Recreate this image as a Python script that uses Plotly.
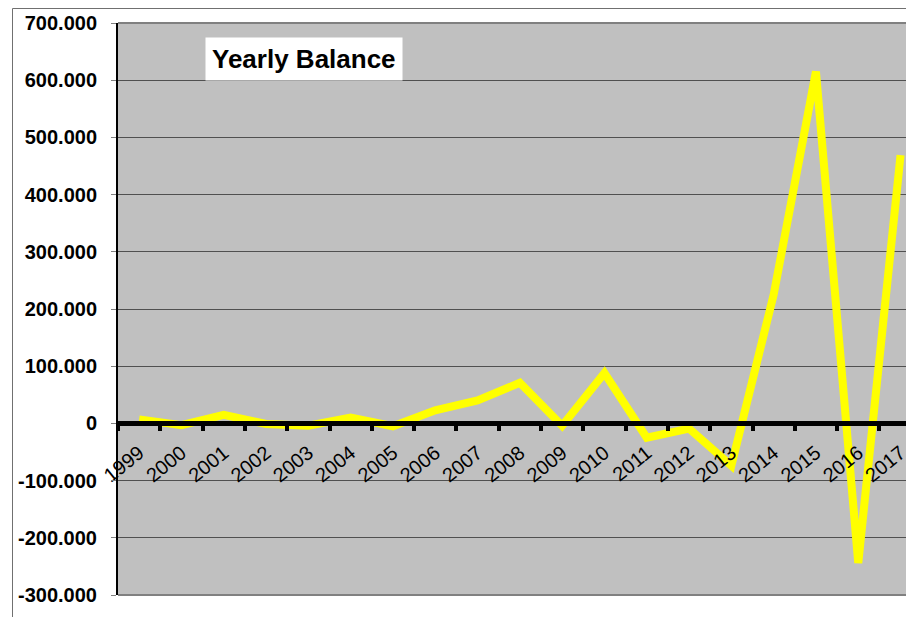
import plotly.graph_objects as go

years = ["1999", "2000", "2001", "2002", "2003", "2004", "2005", "2006", "2007", "2008",
         "2009", "2010", "2011", "2012", "2013", "2014", "2015", "2016", "2017"]
balance = [7000, -3000, 15000, -1000, -4000, 10000, -5000, 23000, 40000, 71000,
           -4000, 88000, -25000, -9000, -74000, 225000, 615000, -244000, 469000]
y_tickvals = [700000, 600000, 500000, 400000, 300000, 200000, 100000, 0,
              -100000, -200000, -300000]
y_ticktext = ["700.000", "600.000", "500.000", "400.000", "300.000", "200.000",
              "100.000", "0", "-100.000", "-200.000", "-300.000"]
title_text = "Yearly Balance"

# the page body adds an 8px offset around the figure
OFF = 8
W, H = 914 - OFF, 617 - OFF
ML, MR, MT, MB = 118 - OFF, 0, 23 - OFF, 22
pw = W - ML - MR
ph = H - MT - MB

def px_x(p):
    return (p - OFF - ML) / pw

def px_y(p):
    return 1 - (p - OFF - MT) / ph

fig = go.Figure()
fig.add_trace(go.Scatter(
    x=years, y=balance, mode="lines",
    line=dict(color="#FFFF00", width=8),
    showlegend=False, hoverinfo="skip",
))

font_family = "Liberation Sans, Arial, sans-serif"

fig.update_layout(
    width=W, height=H,
    margin=dict(l=ML, r=MR, t=MT, b=MB, pad=0, autoexpand=False),
    paper_bgcolor="white",
    plot_bgcolor="#C0C0C0",
    xaxis=dict(
        type="category",
        range=[-0.5, -0.5 + pw / 42.3],
        anchor="free", position=0.3,
        automargin=False,
        showline=True, linecolor="black", linewidth=5,
        ticks="outside", tickson="boundaries", ticklen=5, tickwidth=4, tickcolor="black",
        tickangle=-39,
        ticklabelstandoff=7,
        tickfont=dict(family=font_family, size=20, color="black"),
        showgrid=False, zeroline=False,
        fixedrange=True,
    ),
    yaxis=dict(
        range=[-300000, 700000],
        automargin=False,
        tickvals=y_tickvals, ticktext=y_ticktext,
        showline=True, linecolor="black", linewidth=2,
        ticks="outside", ticklen=5, tickwidth=1, tickcolor="#808080",
        ticklabelstandoff=10,
        tickfont=dict(family=font_family, size=20, color="black", weight="bold"),
        showgrid=True, gridcolor="#505050", gridwidth=1,
        zeroline=False,
        fixedrange=True,
    ),
    annotations=[dict(
        text=title_text, xref="paper", yref="paper",
        x=px_x(304), y=px_y(58.5), xanchor="center", yanchor="middle",
        showarrow=False, bgcolor="white", borderpad=6,
        font=dict(family=font_family, size=26, color="black", weight="bold"),
    )],
    shapes=[
        dict(type="line", xref="paper", yref="paper", x0=0, x1=1, y0=1, y1=1,
             line=dict(color="#808080", width=2)),
        dict(type="line", xref="paper", yref="paper", x0=0, x1=1, y0=0, y1=0,
             line=dict(color="#808080", width=2)),
        dict(type="line", xref="paper", yref="paper", x0=px_x(12.5), x1=px_x(12.5),
             y0=px_y(8.5), y1=px_y(617), line=dict(color="#707070", width=1)),
        dict(type="line", xref="paper", yref="paper", x0=px_x(12.5), x1=1,
             y0=px_y(8.5), y1=px_y(8.5), line=dict(color="#707070", width=1)),
    ],
)

fig.write_html("out.html")
